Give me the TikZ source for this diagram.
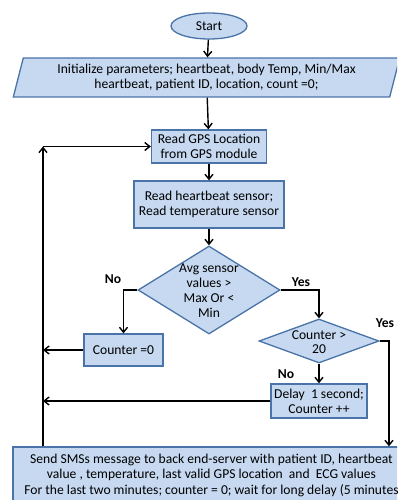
\documentclass[tikz,border=0pt]{standalone}
\usepackage{fontspec}
\setmainfont{Carlito}
\usetikzlibrary{arrows.meta,shapes.geometric}
\definecolor{boxfill}{RGB}{198,217,241}
\definecolor{boxline}{RGB}{74,116,168}

\begin{document}
\begin{tikzpicture}[x=1pt,y=-1pt,
  box/.style={draw=boxline, fill=boxfill, line width=1.3pt, inner sep=0pt,
    align=center, font=\fontsize{13.6}{15}\selectfont},
  decide/.style={box, diamond, aspect=1.6},
  arr/.style={-{Straight Barb[length=5pt,width=8pt]}, line width=1.4pt},
  lbl/.style={font=\fontsize{13.6}{15}\selectfont\bfseries}]
  \clip (0,0) rectangle (397,500);
  % blocks
  \node[box, ellipse, minimum width=76, minimum height=26] (start) at (209,26) {Start};
  \node[box, trapezium, trapezium left angle=73, trapezium right angle=107,
    trapezium stretches, minimum width=387, minimum height=39] (init) at (206.5,77.5)
    {Initialize parameters; heartbeat, body Temp, Min/Max\\heartbeat, patient ID, location, count =0;};
  \node[box, minimum width=115, minimum height=33] (gps) at (209,146.5)
    {Read GPS Location\\from GPS module};
  \node[box, minimum width=150, minimum height=47] (sensor) at (209,204.5)
    {Read heartbeat sensor;\\Read temperature sensor};
  \node[decide, minimum width=142, minimum height=88] (avg) at (209,290) {};
  \node[align=center, font=\fontsize{13.6}{15}\selectfont] (avgtext) at (209,291)
    {Avg sensor\\values >\\Max Or <\\Min};
  \node[box, minimum width=79, minimum height=32] (cnt0) at (123.5,350) {Counter =0};
  \node[decide, minimum width=120, minimum height=44] (c20) at (319,341) {};
  \node[align=center, font=\fontsize{13.6}{13.5}\selectfont] (c20text) at (319,342)
    {Counter >\\20};
  \node[box, minimum width=96, minimum height=34] (delay) at (319,401)
    {Delay~ 1 second;\\Counter ++};
  \node[box, minimum width=397, minimum height=56, font=\fontsize{13.6}{15.5}\selectfont] (sms) at (211.5,475)
    {Send SMSs message to back end-server with patient ID, heartbeat\\
     value , temperature, last valid GPS location~ and~ ECG values\\
     For the last two minutes; counter = 0; wait for long delay (5 minutes};
  % turning points
  \coordinate (loop) at (43,146.5);
  \coordinate (yesturn) at (389,341);
  % connectors
  \foreach \a/\b in {start/init, init/gps, gps/sensor, sensor/avg}
    \draw[arr] (\a) -- (\b);
  \draw[arr] (avg.west) -| (cnt0.north);
  \draw[arr] (avg.east) -| (c20.north);
  \draw[arr] (c20.south) -- (delay.north);
  \draw[arr] (c20.east) -- (yesturn) -- (yesturn |- sms.north);
  \draw[arr] (cnt0.west) -- (cnt0.west -| loop);
  \draw[arr] (delay.west) -- (delay.west -| loop);
  \draw[arr] (sms.north -| loop) -- (loop);
  \draw[arr] (loop) -- (gps.west);
  % branch labels
  \node[lbl] (noa) at (113,279) {No};
  \node[lbl] (yesa) at (301,282) {Yes};
  \node[lbl] (yesb) at (385,323) {Yes};
  \node[lbl] (nob) at (286,374) {No};
\end{tikzpicture}
\end{document}
